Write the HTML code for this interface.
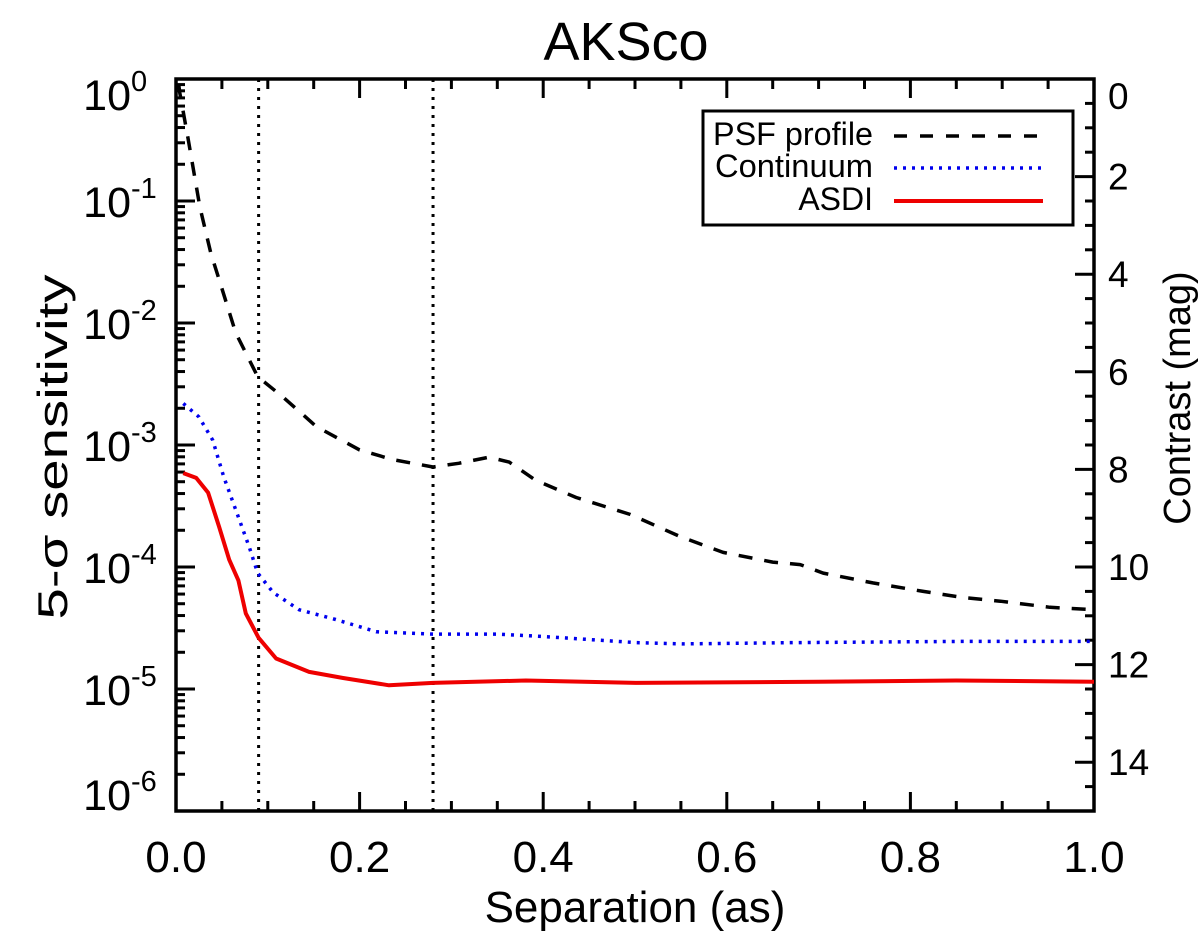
<!DOCTYPE html>
<html><head><meta charset="utf-8"><style>
html,body{margin:0;padding:0;background:#fff;}
svg{display:block;font-family:"Liberation Sans",sans-serif;}
</style></head><body>
<svg id="chart" width="1200" height="940" viewBox="0 0 1200 940" xmlns="http://www.w3.org/2000/svg">
<text x="626" y="60" font-size="54" text-anchor="middle">AKSco</text>
<g id="axes"></g>
<g id="series"></g>
<g id="legend">
<rect x="703" y="111" width="370" height="114" fill="#fff" stroke="#000" stroke-width="3"/>
<text x="873" y="145" font-size="32" text-anchor="end" textLength="160" lengthAdjust="spacingAndGlyphs">PSF profile</text>
<text x="873" y="177" font-size="32" text-anchor="end" textLength="158" lengthAdjust="spacingAndGlyphs">Continuum</text>
<text x="873" y="210" font-size="32" text-anchor="end">ASDI</text>
<line x1="894" y1="136" x2="1040" y2="136" stroke="#000" stroke-width="3.5" stroke-dasharray="13,13"/>
<line x1="894" y1="168" x2="1043" y2="168" stroke="#0000ee" stroke-width="3.5" stroke-dasharray="3,6"/>
<line x1="894" y1="201" x2="1043" y2="201" stroke="#ee0000" stroke-width="4"/>
</g>
<text x="635" y="922" font-size="44" text-anchor="middle">Separation (as)</text>
<text transform="translate(67,447) rotate(-90)" font-size="42" text-anchor="middle" textLength="345" lengthAdjust="spacingAndGlyphs">5-σ sensitivity</text>
<text transform="translate(1190,398) rotate(-90)" font-size="38" text-anchor="middle">Contrast (mag)</text>
</svg>
<script>
// data (x in arcsec, y as log10 sensitivity)
const psfX = [0.003,0.004,0.013,0.026,0.038,0.046,0.065,0.089,0.117,0.153,0.2,0.236,0.28,0.308,0.341,0.363,0.392,0.436,0.495,0.549,0.596,0.650,0.680,0.705,0.759,0.814,0.857,0.898,0.952,1.0];
const psfLog = [-0.05,-0.11,-0.48,-1.05,-1.43,-1.62,-2.08,-2.44,-2.61,-2.85,-3.04,-3.12,-3.18,-3.15,-3.10,-3.14,-3.29,-3.43,-3.57,-3.75,-3.88,-3.96,-3.98,-4.05,-4.13,-4.20,-4.25,-4.28,-4.33,-4.35];
const contX = [0.008,0.025,0.04,0.052,0.065,0.08,0.089,0.106,0.134,0.174,0.218,0.28,0.349,0.4,0.501,0.552,0.676,0.857,1.0];
const contLog = [-2.66,-2.77,-2.96,-3.26,-3.53,-3.84,-4.05,-4.21,-4.35,-4.43,-4.53,-4.55,-4.55,-4.57,-4.62,-4.63,-4.62,-4.61,-4.61];
const asdiX = [0.008,0.022,0.035,0.047,0.058,0.068,0.076,0.09,0.109,0.145,0.182,0.232,0.28,0.381,0.501,0.7,0.85,1.0];
const asdiLog = [-3.23,-3.27,-3.39,-3.67,-3.94,-4.11,-4.38,-4.58,-4.75,-4.86,-4.91,-4.97,-4.95,-4.93,-4.95,-4.94,-4.93,-4.94];
const vlines = [0.09,0.28];
const xTicks = [0,0.2,0.4,0.6,0.8,1.0];
const xTickLabels = ["0.0","0.2","0.4","0.6","0.8","1.0"];
const yDecades = [0,-1,-2,-3,-4,-5,-6];
const magTicks = [0,2,4,6,8,10,12,14];

const L=176,R=1094,T=79,B=811;
const sx = v => L + v*(R-L);
const sy = lg => T - lg*(B-T)/6;
const NS="http://www.w3.org/2000/svg";
const axes=document.getElementById('axes'), ser=document.getElementById('series');
function mk(tag,attrs,parent){const e=document.createElementNS(NS,tag);for(const k in attrs)e.setAttribute(k,attrs[k]);parent.appendChild(e);return e;}

vlines.forEach((v,i)=>{
  const l=mk('line',{x1:sx(v),x2:sx(v),y1:T,y2:B,stroke:'#000','stroke-width':3,'stroke-dasharray':'3,6'},ser);
  
  
});
function path(xs,ys,attrs,name){
  const d=xs.map((x,i)=>(i?'L':'M')+sx(x).toFixed(1)+','+sy(ys[i]).toFixed(1)).join('');
  const p=mk('path',Object.assign({d:d,fill:'none','stroke-linejoin':'round'},attrs),ser);
  
  
}
path(psfX,psfLog,{stroke:'#000','stroke-width':3.5,'stroke-dasharray':'14,12'},'psf-profile-line');
path(contX,contLog,{stroke:'#0000ee','stroke-width':3.5,'stroke-dasharray':'3,6'},'continuum-line');
path(asdiX,asdiLog,{stroke:'#ee0000','stroke-width':4},'asdi-line');

const fr=mk('rect',{x:L,y:T,width:R-L,height:B-T,fill:'none',stroke:'#000','stroke-width':3.5},axes);



for(let k=0;k<=20;k++){
  const v=k*0.05, major=(k%4===0), len=major?19:10;
  mk('line',{x1:sx(v),x2:sx(v),y1:B,y2:B-len,stroke:'#000','stroke-width':3},axes);
  mk('line',{x1:sx(v),x2:sx(v),y1:T,y2:T+len,stroke:'#000','stroke-width':3},axes);
}
xTicks.forEach((v,i)=>{
  const t=mk('text',{x:sx(v),y:872,'font-size':44,'text-anchor':'middle'},axes);
  t.textContent=xTickLabels[i];
  
  
});
yDecades.forEach(d=>{
  const y=sy(d);
  mk('line',{x1:L,x2:L+19,y1:y,y2:y,stroke:'#000','stroke-width':3},axes);
  if(d>-6){for(let m=2;m<=9;m++){const yy=sy(d-1+Math.log10(m));mk('line',{x1:L,x2:L+9,y1:yy,y2:yy,stroke:'#000','stroke-width':3},axes);}}
  let base = y+16;
  if(d===0) base=110;
  if(d===-6) base=810;
  const t=mk('text',{x:131,y:base,'font-size':43,'text-anchor':'end'},axes);
  t.textContent='10';
  
  
  const e=mk('text',{x:131,y:base-19,'font-size':29},axes);
  e.textContent=String(d);
  
  
});
for(let m=0;m<=15;m+=0.5){
  const y=sy(-m/2.5); if(y>B+0.5)break;
  const major=(m%2===0);
  mk('line',{x1:R,x2:R-(major?19:9),y1:y,y2:y,stroke:'#000','stroke-width':3},axes);
}
magTicks.forEach(m=>{
  const y=sy(-m/2.5);
  const t=mk('text',{x:1108,y:(m===0?y+30:y+13),'font-size':37},axes);
  t.textContent=String(m);
  
  
});
</script>
</body></html>
